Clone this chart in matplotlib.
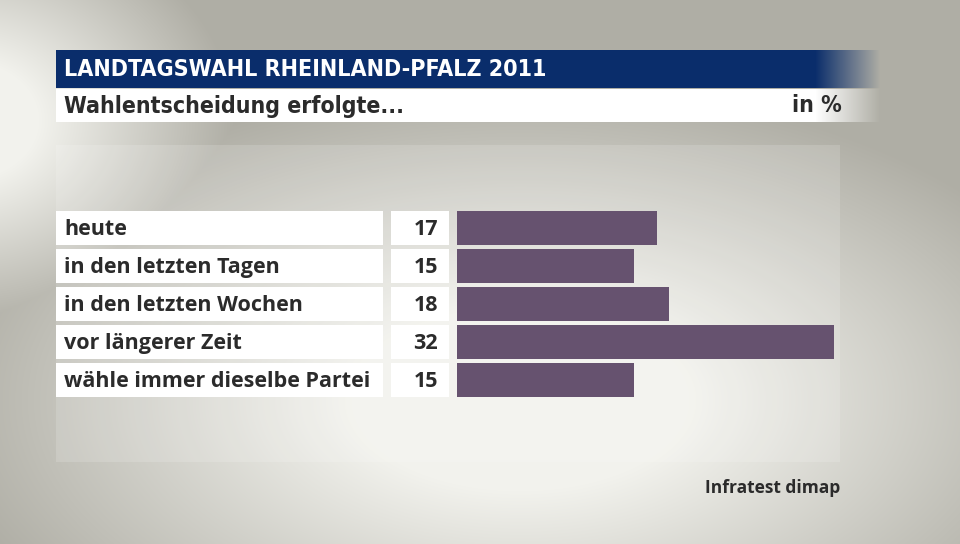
import numpy as np
import matplotlib.pyplot as plt
from matplotlib.patches import Rectangle
from matplotlib import transforms

labels = ['heute', 'in den letzten Tagen', 'in den letzten Wochen',
          'vor längerer Zeit', 'wähle immer dieselbe Partei']
values = [17, 15, 18, 32, 15]
title = 'LANDTAGSWAHL RHEINLAND-PFALZ 2011'
subtitle = 'Wahlentscheidung erfolgte...'
unit = 'in %'
source = 'Infratest dimap'

W, H = 960, 544
fig = plt.figure(figsize=(9.6, 5.44), dpi=100)

# background gradient in pixel coordinates
bg = fig.add_axes([0, 0, 1, 1])
bg.axis('off')
yy, xx = np.mgrid[0:H, 0:W]
r1 = np.sqrt(((xx - 520) / 560.0) ** 2 + ((yy - 400) / 300.0) ** 2)
r2 = np.sqrt(((xx + 40) / 260.0) ** 2 + ((yy - 120) / 200.0) ** 2)
t = np.clip((np.minimum(r1, r2) - 0.3) / 0.75, 0, 1)
light = np.array([0.95, 0.95, 0.93])
dark = np.array([0.69, 0.685, 0.65])
img = light[None, None, :] * (1 - t[..., None]) + dark[None, None, :] * t[..., None]
bg.imshow(img, extent=(0, W, H, 0), aspect='auto', zorder=0)

# lighter panel behind the bars
bg.add_patch(Rectangle((56, 145), 784, 317, color='white', alpha=0.15, lw=0, zorder=1))


def fade_bar(y0, y1, color, x0=56, x_fade=815, x1=880):
    n = x1 - x0
    rgba = np.zeros((1, n, 4))
    rgba[..., :3] = color
    xs = np.arange(x0, x1)
    rgba[0, :, 3] = np.clip((x1 - xs) / float(x1 - x_fade), 0, 1)
    bg.imshow(rgba, extent=(x0, x1, y1, y0), aspect='auto', zorder=2)


fade_bar(50, 88, np.array([0.04, 0.18, 0.42]))
fade_bar(89, 122, np.array([1.0, 1.0, 1.0]))
bg.set_xlim(0, W)
bg.set_ylim(H, 0)

bg.text(64, 70, title, color='white', fontsize=16.7, fontweight='bold',
        family='DejaVu Sans', fontstretch='condensed', va='center', ha='left', zorder=3)
bg.text(64, 106, subtitle, color='#2b2b2b', fontsize=16.6, fontweight='bold',
        family='DejaVu Sans', fontstretch='condensed', va='center', ha='left', zorder=3)
bg.text(842, 106, unit, color='#2b2b2b', fontsize=16.6, fontweight='bold',
        family='DejaVu Sans', fontstretch='condensed', va='center', ha='right', zorder=3)
bg.text(840, 488, source, color='#2b2b2b', fontsize=12.5, fontweight='bold',
        family='Open Sans', va='center', ha='right', zorder=3)

# bar axes
px_per_unit = (834 - 457) / 32.0
ax_w = 420
ax = fig.add_axes([457 / W, 1 - 399 / H, ax_w / W, 190 / H])
ax.set_xlim(0, ax_w / px_per_unit)
ax.set_ylim(len(values) - 0.5, -0.5)
ax.axis('off')
ax.patch.set_alpha(0)

pos = np.arange(len(values))
ax.barh(pos, values, height=34 / 38.0, color='#66526f', zorder=3)

tr = transforms.blended_transform_factory(fig.transFigure, ax.transData)
h = 34 / 38.0
for i, (lab, v) in enumerate(zip(labels, values)):
    ax.add_patch(Rectangle((56 / W, i - h / 2), (383 - 56) / W, h, transform=tr,
                           color='white', lw=0, clip_on=False, zorder=2))
    ax.add_patch(Rectangle((391 / W, i - h / 2), (449 - 391) / W, h, transform=tr,
                           color='white', lw=0, clip_on=False, zorder=2))
    ax.text(64 / W, i + 0.04, lab, transform=tr, fontsize=15.5, fontweight='bold',
            family='Open Sans', color='#2b2b2b', va='center', ha='left', zorder=4)
    ax.text(438 / W, i + 0.04, str(v), transform=tr, fontsize=15.5, fontweight='bold',
            family='Open Sans', color='#2b2b2b', va='center', ha='right', zorder=4)

fig.savefig('out.png', dpi=100)
